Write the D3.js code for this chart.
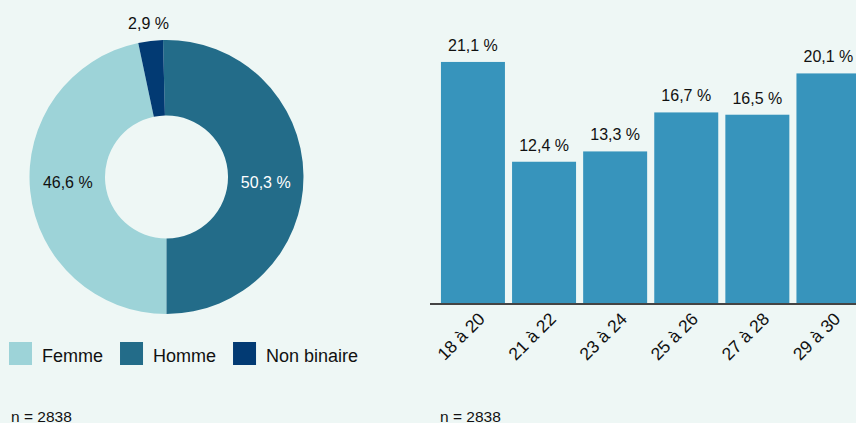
<!DOCTYPE html>
<html>
<head>
<meta charset="utf-8">
<script src="https://cdn.jsdelivr.net/npm/d3@7"></script>
<style>
  body { margin: 0; background: #eef7f5; }
  svg { display: block; font-family: "Liberation Sans", Arial, sans-serif; }
</style>
</head>
<body>
<div id="chart"></div>
<script>
// genre
var genres = ["Femme", "Homme", "Non binaire"];
var genreValues = [46.6, 50.3, 2.9];
var genreColors = ["#9dd3d8", "#236c89", "#023a73"];
// order of slices around the ring, starting at the bottom
var pieOrder = ["Femme", "Non binaire", "Homme"];

// âge
var ages = ["18 à 20", "21 à 22", "23 à 24", "25 à 26", "27 à 28", "29 à 30"];
var ageValues = [21.1, 12.4, 13.3, 16.7, 16.5, 20.1];

var nLabel = "n = 2838";

var W = 856, H = 423;
var fmt = function(v) { return d3.format(".1f")(v).replace(".", ",") + " %"; };

var svg = d3.select("#chart")
  .append("svg")
    .attr("width", W)
    .attr("height", H);

svg.append("rect")
  .attr("width", W)
  .attr("height", H)
  .attr("fill", "#eef7f5");

// ---- donut
var cx = 166.5, cy = 177, outerR = 137, innerR = 61.5;
var genreData = genres.map(function(g, i) {
  return { name: g, value: genreValues[i], color: genreColors[i] };
});

var pie = d3.pie()
  .value(function(d) { return d.value; })
  .sort(function(a, b) { return pieOrder.indexOf(a.name) - pieOrder.indexOf(b.name); })
  .startAngle(Math.PI)
  .endAngle(3 * Math.PI);
var arc = d3.arc().innerRadius(innerR).outerRadius(outerR);
var arcs = pie(genreData);

var donut = svg.append("g")
  .attr("transform", "translate(" + cx + "," + cy + ")");

donut.selectAll("path")
  .data(arcs)
  .enter()
  .append("path")
    .attr("d", arc)
    .attr("fill", function(d) { return d.data.color; });

// big slices: label on the ring, level with the centre; small: outside
var outerLabel = d3.arc().innerRadius(155).outerRadius(155);
donut.selectAll("text")
  .data(arcs)
  .enter()
  .append("text")
    .attr("transform", function(d) {
      var big = d.endAngle - d.startAngle > 0.5;
      var c = big ? arc.centroid(d) : outerLabel.centroid(d);
      if (big) c[1] = 5;
      return "translate(" + c[0] + "," + c[1] + ")";
    })
    .attr("dy", "0.35em")
    .attr("text-anchor", "middle")
    .attr("font-size", 16)
    .attr("fill", function(d) { return d.data.name == "Homme" ? "#ffffff" : "#111111"; })
    .text(function(d) { return fmt(d.data.value); });

// legend
var legend = svg.append("g").attr("transform", "translate(9,342)");
var lx = 0;
genreData.forEach(function(d) {
  var item = legend.append("g").attr("transform", "translate(" + lx + ",0)");
  item.append("rect")
    .attr("width", 23)
    .attr("height", 23)
    .attr("fill", d.color);
  var t = item.append("text")
    .attr("x", 33)
    .attr("y", 19.5)
    .attr("font-size", 18)
    .attr("fill", "#111111")
    .text(d.name);
  lx += 33 + t.node().getComputedTextLength() + 17;
});

svg.append("text")
  .attr("x", 11)
  .attr("y", 422)
  .attr("font-size", 15.5)
  .attr("fill", "#111111")
  .text(nLabel);

// ---- bars
var axisY = 304;
var x = d3.scaleBand()
  .domain(ages)
  .range([437.4, 864])
  .paddingInner(0.1)
  .paddingOuter(0.05);

var y = d3.scaleLinear()
  .domain([0, 26.5])
  .range([axisY, 0]);

var bars = svg.append("g");

bars.selectAll("rect")
  .data(ages)
  .enter()
  .append("rect")
    .attr("x", function(d) { return x(d); })
    .attr("y", function(d, i) { return y(ageValues[i]); })
    .attr("width", x.bandwidth())
    .attr("height", function(d, i) { return axisY - y(ageValues[i]); })
    .attr("fill", "#3794bc");

bars.selectAll(".val")
  .data(ages)
  .enter()
  .append("text")
    .attr("class", "val")
    .attr("x", function(d) { return x(d) + x.bandwidth() / 2; })
    .attr("y", function(d, i) { return y(ageValues[i]) - 11; })
    .attr("text-anchor", "middle")
    .attr("font-size", 16)
    .attr("fill", "#111111")
    .text(function(d, i) { return fmt(ageValues[i]); });

var xAxis = svg.append("g")
  .attr("transform", "translate(0," + axisY + ")")
  .call(d3.axisBottom(x).tickSize(0).tickPadding(0));

xAxis.select(".domain")
  .attr("d", "M430,0H856")
  .attr("stroke", "#444444")
  .attr("stroke-width", 2);

xAxis.selectAll(".tick text")
  .attr("font-family", "Liberation Sans, Arial, sans-serif")
  .attr("font-size", 17.5)
  .attr("fill", "#111111")
  .attr("text-anchor", "end")
  .attr("dy", 0)
  .attr("y", 0)
  .attr("transform", "translate(13,16) rotate(-45)");

svg.append("text")
  .attr("x", 440)
  .attr("y", 422)
  .attr("font-size", 15.5)
  .attr("fill", "#111111")
  .text(nLabel);
</script>
</body>
</html>
